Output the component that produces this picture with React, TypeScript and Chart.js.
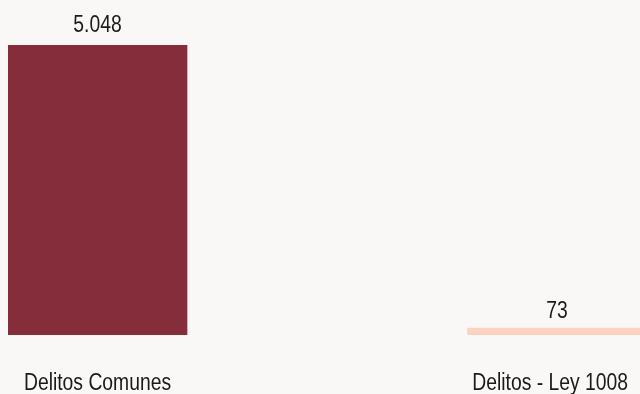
import React, { useEffect, useRef } from "react";
import { Chart, registerables } from "chart.js";

Chart.register(...registerables);

const categories = ["Delitos Comunes", "Delitos - Ley 1008"];
const values = [5048, 73];
const barColors = ["#862d3b", "#fcd3c0"];

const FONT = "'Liberation Sans', Arial, sans-serif";
const FONT_SIZE = 23;
const NARROW = 0.84;
const TEXT_COLOR = "#1a1a1a";
const BG = "#f9f8f6";

const fmt = (v: number) => new Intl.NumberFormat("de-DE").format(v);

function narrowText(ctx: CanvasRenderingContext2D, text: string, x: number, y: number) {
  ctx.save();
  ctx.translate(x, y);
  ctx.scale(NARROW, 1);
  ctx.fillText(text, 0, 0);
  ctx.restore();
}

const labelPlugin = {
  id: "barLabels",
  afterDatasetsDraw(chart: any) {
    const { ctx, chartArea } = chart;
    const meta = chart.getDatasetMeta(0);
    const xScale = chart.scales.x;
    const yScale = chart.scales.y;
    ctx.save();
    ctx.font = `${FONT_SIZE}px ${FONT}`;
    ctx.fillStyle = TEXT_COLOR;
    ctx.textAlign = "center";
    ctx.textBaseline = "alphabetic";
    meta.data.forEach((bar: any, i: number) => {
      narrowText(ctx, fmt(values[i]), bar.x, yScale.getPixelForValue(values[i]) - 13);
    });
    categories.forEach((c, i) => {
      const half = (ctx.measureText(c).width * NARROW) / 2;
      let x = xScale.getPixelForValue(i);
      x = Math.min(x, chartArea.right - 12 - half);
      narrowText(ctx, c, x, chartArea.bottom + 55);
    });
    ctx.restore();
  },
};

export default function App() {
  const ref = useRef<HTMLCanvasElement>(null);
  useEffect(() => {
    document.body.style.background = BG;
    document.body.style.margin = "0";
    document.body.style.overflow = "hidden";
    const chart = new Chart(ref.current!, {
      type: "bar",
      data: {
        datasets: [
          {
            data: values.map((v, i) => ({ x: i, y: v })),
            backgroundColor: barColors,
            borderWidth: 0,
            barThickness: 179,
            minBarLength: 7,
          },
        ],
      },
      options: {
        animation: false,
        responsive: false,
        layout: { padding: { top: 45, left: 8, right: 0, bottom: 59 } },
        plugins: { legend: { display: false }, tooltip: { enabled: false } },
        scales: {
          y: { display: false, min: 0, max: Math.max(...values) },
          x: {
            type: "linear",
            display: false,
            offset: false,
            min: -0.1948,
            max: 1.1806,
          },
        },
      },
      plugins: [labelPlugin],
    });
    return () => chart.destroy();
  }, []);
  return <canvas ref={ref} width={640} height={394} style={{ display: "block" }} />;
}
